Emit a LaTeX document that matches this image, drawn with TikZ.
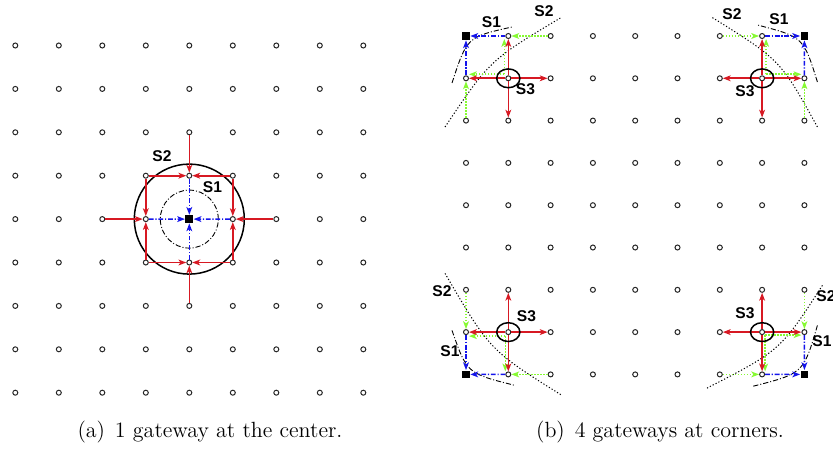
\documentclass[tikz,border=0pt]{standalone}
\usepackage{fontspec}
\newfontfamily\labfont{Liberation Sans}
\usetikzlibrary{arrows.meta}
\definecolor{arrred}{RGB}{215,25,35}
\definecolor{arrgreen}{RGB}{135,250,50}
\definecolor{arrblue}{RGB}{20,20,235}
\begin{document}
\begin{tikzpicture}[x=0.5pt,y=-0.5pt,
  gridpt/.style={circle,draw=black!85,line width=0.5pt,inner sep=0pt,minimum size=2.5pt},
  gateway/.style={rectangle,fill=black,inner sep=0pt,minimum size=3.9pt},
  arrtip/.style={-{Stealth[length=3.9pt,width=2.9pt,inset=1pt]}},
  redarr/.style={arrtip,arrred,line width=0.8pt},
  bluearr/.style={arrtip,arrblue,line width=0.7pt,dash pattern=on 2.4pt off 0.9pt on 0.6pt off 0.9pt},
  greenarr/.style={arrtip,arrgreen,line width=0.8pt,dash pattern=on 0.7pt off 0.8pt},
  hopone/.style={black,line width=0.45pt,dash pattern=on 2.6pt off 1pt on 0.5pt off 1pt},
  hoptwo/.style={black,line width=0.5pt,dash pattern=on 0.6pt off 1pt},
  ringline/.style={black,line width=0.75pt},
  lab/.style={font=\labfont\bfseries\fontsize{7.8}{9}\selectfont,inner sep=0pt},
  captext/.style={font=\fontsize{11}{13}\selectfont,anchor=base,inner sep=0pt},
]
\useasboundingbox (0,0) rectangle (833,449);

% ---------- left grid ----------
\foreach \i in {0,...,8}{\foreach \j in {0,...,8}{
  \pgfmathtruncatemacro\skipit{(\i==4)&&(\j==4)}
  \ifnum\skipit=0 \node[gridpt] (L-\i-\j) at ({15.3+43.5*\i},{45.5+43.4*\j}) {};\fi
}}
\node[gateway] (gC) at (189.3,219.1) {};

\draw[ringline] (gC.center) circle[radius=27.5pt];
\draw[hopone] (gC.center) circle[radius=14.5pt];

\draw[bluearr] (L-3-4) -- (gC);
\draw[bluearr] (L-5-4) -- (gC);
\draw[bluearr] (L-4-3) -- (gC);
\draw[bluearr] (L-4-5) -- (gC);

\draw[redarr] (L-3-3) -- (L-4-3);
\draw[redarr] (L-3-3) -- (L-3-4);
\draw[redarr] (L-5-3) -- (L-4-3);
\draw[redarr] (L-5-3) -- (L-5-4);
\draw[redarr] (L-3-5) -- (L-4-5);
\draw[redarr] (L-3-5) -- (L-3-4);
\draw[redarr] (L-5-5) -- (L-4-5);
\draw[redarr] (L-5-5) -- (L-5-4);
\draw[redarr] (L-4-2) -- (L-4-3);
\draw[redarr] (L-2-4) -- (L-3-4);
\draw[redarr] (L-6-4) -- (L-5-4);
\draw[redarr] (L-4-6) -- (L-4-5);

\node[lab] (lS2) at (162,156) {S2};
\node[lab] (lS1) at (212.5,187) {S1};

% ---------- right grid ----------
\foreach \i in {0,...,8}{\foreach \j in {0,...,8}{
  \pgfmathtruncatemacro\skipit{((\i==0)||(\i==8))&&((\j==0)||(\j==8))}
  \ifnum\skipit=0 \node[gridpt] (R-\i-\j) at ({466+42.3*\i},{36+42.3*\j}) {};\fi
}}
\node[gateway] (gA) at (466,36) {};
\node[gateway] (gB) at (804.4,36) {};
\node[gateway] (gD) at (466,374.4) {};
\node[gateway] (gE) at (804.4,374.4) {};

% ----- top-left corner -----
\coordinate (A1a) at ([shift={(-14,47)}]gA.center);
\coordinate (A1c) at ([shift={(1,1)}]gA.center);
\coordinate (A1b) at ([shift={(46,-9)}]gA.center);
\coordinate (A2a) at ([shift={(-21,91)}]gA.center);
\coordinate (A2c) at ([shift={(24,24)}]gA.center);
\coordinate (A2b) at ([shift={(96,-19)}]gA.center);
\draw[hopone] (A1a) .. controls (A1c) .. (A1b);
\draw[hoptwo] (A2a) .. controls (A2c) .. (A2b);
\draw[bluearr] (R-1-0) -- (gA);
\draw[bluearr] (R-0-1) -- (gA);
\draw[greenarr] (R-2-0) -- (R-1-0);
\draw[greenarr] (R-0-2) -- (R-0-1);
\coordinate (cA) at ([shift={(-4,-4)}]R-1-1.center);
\draw[greenarr] (cA) -- (cA |- R-1-0.south);
\draw[greenarr] (cA) -- (cA -| R-0-1.east);
\draw[redarr] (R-1-1) -- (R-1-0);
\draw[redarr] (R-1-1) -- (R-2-1);
\draw[redarr] (R-1-1) -- (R-1-2);
\draw[redarr] (R-1-1) -- (R-0-1);
\draw[ringline] (R-1-1.center) ellipse[x radius=5.8pt,y radius=4.7pt];
\node[lab] (aS1) at (491.5,22) {S1};
\node[lab] (aS2) at (544,11.5) {S2};
\node[lab] (aS3) at (525.5,89.5) {S3};

% ----- top-right corner -----
\coordinate (B1a) at ([shift={(13,46)}]gB.center);
\coordinate (B1c) at ([shift={(-1,1)}]gB.center);
\coordinate (B1b) at ([shift={(-47,-11)}]gB.center);
\coordinate (B2a) at ([shift={(13,91)}]gB.center);
\coordinate (B2c) at ([shift={(-24,24)}]gB.center);
\coordinate (B2b) at ([shift={(-93,-19)}]gB.center);
\draw[hopone] (B1a) .. controls (B1c) .. (B1b);
\draw[hoptwo] (B2a) .. controls (B2c) .. (B2b);
\draw[bluearr] (R-7-0) -- (gB);
\draw[bluearr] (R-8-1) -- (gB);
\draw[greenarr] (R-6-0) -- (R-7-0);
\draw[greenarr] (R-8-2) -- (R-8-1);
\coordinate (cB) at ([shift={(4,-4)}]R-7-1.center);
\draw[greenarr] (cB) -- (cB |- R-7-0.south);
\draw[greenarr] (cB) -- (cB -| R-8-1.west);
\draw[redarr] (R-7-1) -- (R-7-0);
\draw[redarr] (R-7-1) -- (R-6-1);
\draw[redarr] (R-7-1) -- (R-7-2);
\draw[redarr] (R-7-1) -- (R-8-1);
\draw[ringline] (R-7-1.center) ellipse[x radius=5.8pt,y radius=4.7pt];
\node[lab] (bS2) at (732,14) {S2};
\node[lab] (bS1) at (779,19) {S1};
\node[lab] (bS3) at (745,91) {S3};

% ----- bottom-left corner -----
\coordinate (D1a) at ([shift={(-14,-44)}]gD.center);
\coordinate (D1c) at ([shift={(1,-1)}]gD.center);
\coordinate (D1b) at ([shift={(49,11)}]gD.center);
\coordinate (D2a) at ([shift={(-21,-101)}]gD.center);
\coordinate (D2c) at ([shift={(24,-24)}]gD.center);
\coordinate (D2b) at ([shift={(96,21)}]gD.center);
\draw[hopone] (D1a) .. controls (D1c) .. (D1b);
\draw[hoptwo] (D2a) .. controls (D2c) .. (D2b);
\draw[bluearr] (R-1-8) -- (gD);
\draw[bluearr] (R-0-7) -- (gD);
\draw[greenarr] (R-2-8) -- (R-1-8);
\draw[greenarr] (R-0-6) -- (R-0-7);
\coordinate (cD) at ([shift={(-3,4)}]R-1-7.center);
\draw[greenarr] (cD) -- (cD |- R-1-8.north);
\draw[greenarr] (cD) -- (cD -| R-0-7.east);
\draw[redarr] (R-1-7) -- (R-1-6);
\draw[redarr] (R-1-7) -- (R-2-7);
\draw[redarr] (R-1-7) -- (R-1-8);
\draw[redarr] (R-1-7) -- (R-0-7);
\draw[ringline] (R-1-7.center) ellipse[x radius=5.8pt,y radius=4.7pt];
\node[lab] (dS2) at (442,291) {S2};
\node[lab] (dS1) at (450,351) {S1};
\node[lab] (dS3) at (526.5,316) {S3};

% ----- bottom-right corner -----
\coordinate (E1a) at ([shift={(13,-49)}]gE.center);
\coordinate (E1c) at ([shift={(-1,-1)}]gE.center);
\coordinate (E1b) at ([shift={(-52,12)}]gE.center);
\coordinate (E2a) at ([shift={(18,-89)}]gE.center);
\coordinate (E2c) at ([shift={(-24,-24)}]gE.center);
\coordinate (E2b) at ([shift={(-98,14)}]gE.center);
\draw[hopone] (E1a) .. controls (E1c) .. (E1b);
\draw[hoptwo] (E2a) .. controls (E2c) .. (E2b);
\draw[bluearr] (R-7-8) -- (gE);
\draw[bluearr] (R-8-7) -- (gE);
\draw[greenarr] (R-6-8) -- (R-7-8);
\draw[greenarr] (R-8-6) -- (R-8-7);
\coordinate (cE) at ([shift={(3,3)}]R-7-7.center);
\draw[greenarr] (cE) -- (cE |- R-7-8.north);
\draw[greenarr] (cE) -- (cE -| R-8-7.west);
\draw[redarr] (R-7-7) -- (R-7-6);
\draw[redarr] (R-7-7) -- (R-6-7);
\draw[redarr] (R-7-7) -- (R-7-8);
\draw[redarr] (R-7-7) -- (R-8-7);
\draw[ringline] (R-7-7.center) ellipse[x radius=5.8pt,y radius=4.7pt];
\node[lab] (eS3) at (745,313.5) {S3};
\node[lab] (eS2) at (826,296) {S2};
\node[lab] (eS1) at (822,341.5) {S1};

% ---------- captions ----------
\node[captext] (capa) at (210,437.5) {(a)\hspace{0.45em}1 gateway at the center.};
\node[captext] (capb) at (660,437.5) {(b)\hspace{0.45em}4 gateways at corners.};
\end{tikzpicture}
\end{document}
